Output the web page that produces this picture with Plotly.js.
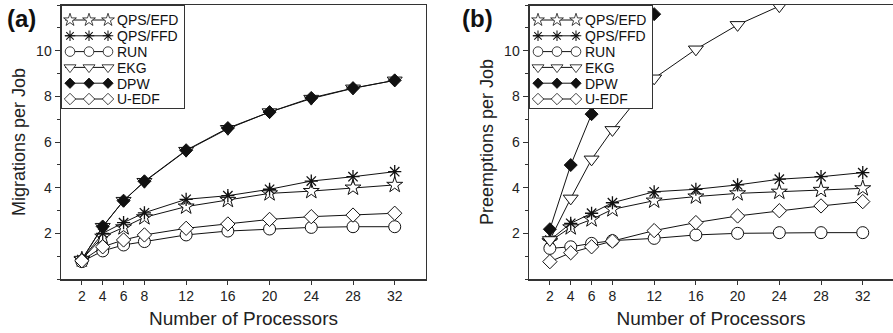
<!DOCTYPE html>
<html>
<head>
<meta charset="utf-8">
<script src="https://cdn.plot.ly/plotly-3.0.1.min.js"></script>
<style>html,body{margin:0;padding:0;background:#fff;}#chart{width:893px;height:333px;}</style>
</head>
<body>
<div id="chart"></div>
<script>
// Categories (x values)
const procs = [2, 4, 6, 8, 12, 16, 20, 24, 28, 32];
const xTickVals = [2, 4, 6, 8, 12, 16, 20, 24, 28, 32];
const yTickVals = [2, 4, 6, 8, 10];

const seriesNames = ["QPS/EFD", "QPS/FFD", "RUN", "EKG", "DPW", "U-EDF"];

// Panel (a): Migrations per Job
const qpsEfdMig = [0.85, 1.85, 2.26, 2.70, 3.17, 3.46, 3.75, 3.85, 4.00, 4.12];
const qpsFfdMig = [0.85, 2.00, 2.47, 2.90, 3.49, 3.65, 3.93, 4.29, 4.48, 4.70];
const runMig    = [0.76, 1.23, 1.49, 1.64, 1.93, 2.10, 2.19, 2.26, 2.29, 2.29];
const ekgMig    = [0.85, 2.29, 3.43, 4.26, 5.62, 6.58, 7.31, 7.90, 8.35, 8.70];
const dpwMig    = [0.85, 2.30, 3.43, 4.28, 5.64, 6.61, 7.31, 7.93, 8.36, 8.70];
const uedfMig   = [0.80, 1.41, 1.71, 1.93, 2.22, 2.41, 2.61, 2.73, 2.80, 2.88];

// Panel (b): Preemptions per Job (null = beyond the plotted range)
const qpsEfdPre = [1.65, 2.26, 2.61, 3.05, 3.43, 3.61, 3.75, 3.82, 3.90, 3.97];
const qpsFfdPre = [1.70, 2.44, 2.88, 3.34, 3.82, 3.93, 4.12, 4.37, 4.48, 4.66];
const runPre    = [1.34, 1.41, 1.56, 1.68, 1.78, 1.93, 2.00, 2.03, 2.03, 2.03];
const ekgPre    = [1.71, 3.53, 5.24, 6.53, 8.79, 10.06, 11.13, 11.95, null, null];
const dpwPre    = [2.18, 4.99, 7.22, 9.40, 11.60, null, null, null, null, null];
const uedfPre   = [0.76, 1.15, 1.41, 1.66, 2.12, 2.47, 2.76, 2.99, 3.20, 3.39];

const migSeries = [qpsEfdMig, qpsFfdMig, runMig, ekgMig, dpwMig, uedfMig];
const preSeries = [qpsEfdPre, qpsFfdPre, runPre, ekgPre, dpwPre, uedfPre];

const markerStyles = [
  {symbol: "star", color: "#fff", size: 12, lw: 1},
  {symbol: "asterisk-open", color: "#111", size: 11, lw: 1.3},
  {symbol: "circle", color: "#fff", size: 12, lw: 1},
  {symbol: "triangle-down", color: "#fff", size: 13, lw: 1},
  {symbol: "diamond", color: "#111", size: 10, lw: 1},
  {symbol: "diamond", color: "#fff", size: 11, lw: 1}
];

const FONT = "Liberation Sans, Arial, Helvetica, sans-serif";
const traces = [];
function addPanel(series, xa, ya, leg) {
  series.forEach((vals, i) => {
    const m = markerStyles[i];
    traces.push({
      type: "scatter", mode: "lines+markers",
      x: procs, y: vals, name: seriesNames[i],
      xaxis: xa, yaxis: ya, legend: leg,
      connectgaps: false,
      line: {color: "#111", width: 1},
      marker: {symbol: m.symbol, size: m.size, color: m.color,
               line: {color: "#111", width: m.lw}}
    });
  });
}
addPanel(migSeries, "x", "y", "legend");
addPanel(preSeries, "x2", "y2", "legend2");

const xCommon = {
  tickmode: "array", tickvals: xTickVals,
  ticks: "outside", ticklen: 4, tickwidth: 1, tickcolor: "#333",
  showline: true, linecolor: "#333", linewidth: 1.5,
  showgrid: false, zeroline: false,
  tickfont: {family: FONT, size: 14, color: "#222"},
  title: {text: "Number of Processors", font: {family: FONT, size: 19, color: "#222"}, standoff: 8}
};
const yCommon = {
  range: [0, 12],
  tickmode: "array", tickvals: yTickVals,
  ticks: "outside", ticklen: 5, tickwidth: 1, tickcolor: "#333",
  minor: {tickmode: "linear", tick0: 0, dtick: 1, ticks: "outside", ticklen: 3, tickcolor: "#333", showgrid: false},
  showline: true, linecolor: "#333", linewidth: 1.5,
  showgrid: false, zeroline: false,
  tickfont: {family: FONT, size: 14, color: "#222"}
};

const legCommon = {
  xanchor: "left", yanchor: "top", y: 1,
  bgcolor: "#fff", bordercolor: "#333", borderwidth: 1,
  font: {family: FONT, size: 14, color: "#111"},
  itemwidth: 45, tracegroupgap: 0, traceorder: "normal"
};

const layout = {
  width: 893, height: 333,
  margin: {l: 61, r: 0, t: 5, b: 54},
  paper_bgcolor: "#fff", plot_bgcolor: "#fff",
  showlegend: true,
  xaxis: Object.assign({}, xCommon, {domain: [0, 0.4387], range: [0, 35], mirror: true, anchor: "y"}),
  yaxis: Object.assign({}, yCommon, {mirror: true, anchor: "x",
    title: {text: "Migrations per Job", font: {family: FONT, size: 18, color: "#222"}, standoff: 6}}),
  xaxis2: Object.assign({}, xCommon, {domain: [0.5625, 1], range: [0, 34.9], mirror: true, anchor: "y2"}),
  yaxis2: Object.assign({}, yCommon, {mirror: false, anchor: "x2",
    title: {text: "Preemptions per Job", font: {family: FONT, size: 18, color: "#222"}, standoff: 6}}),
  legend: Object.assign({}, legCommon, {x: 0}),
  legend2: Object.assign({}, legCommon, {x: 0.5625}),
  annotations: [
    {text: "<b>(a)</b>", xref: "paper", yref: "paper", x: -0.047, y: 0.95, xanchor: "center", yanchor: "middle",
     showarrow: false, font: {family: FONT, size: 24, color: "#111"}},
    {text: "<b>(b)</b>", xref: "paper", yref: "paper", x: 0.501, y: 0.95, xanchor: "center", yanchor: "middle",
     showarrow: false, font: {family: FONT, size: 24, color: "#111"}}
  ]
};

// Compact the legend rows and show three sample markers per entry, as in the original figure
function restyleLegends(gd) {
  const ROW = 15.8, FIRST = 15, BOXW = 123;
  const groups = gd.querySelectorAll("g.infolayer > g");
  groups.forEach(leg => {
    const cls = leg.getAttribute("class") || "";
    if (!/^legend/.test(cls)) return;
    const items = leg.querySelectorAll("g.traces");
    items.forEach((it, i) => {
      const tr = it.getAttribute("transform") || "";
      const mx = /translate\(\s*([-\d.]+)/.exec(tr);
      const tx = mx ? parseFloat(mx[1]) : 0;
      it.setAttribute("transform", "translate(" + tx + "," + (FIRST + i * ROW) + ")");
      const txt = it.querySelector("text.legendtext");
      const textX = txt ? parseFloat(txt.getAttribute("x")) || 55 : 55;
      const line = it.querySelector("path.js-line");
      if (line) line.setAttribute("d", "M" + (textX - 52) + ",0h" + 46);
      const pt = it.querySelector("path.scatterpts");
      if (pt) {
        const parent = pt.parentNode;
        const offs = [-47, -28, -9];
        offs.forEach((o, k) => {
          const node = k === 0 ? pt : pt.cloneNode(true);
          node.setAttribute("transform", "translate(" + (textX + o) + ",0) scale(0.8)");
          if (k > 0) parent.appendChild(node);
        });
      }
    });
    const bg = leg.querySelector("rect.bg");
    if (bg && items.length) {
      bg.setAttribute("height", FIRST + (items.length - 1) * ROW + 9);
      bg.setAttribute("width", BOXW);
    }
  });
}

Plotly.newPlot("chart", traces, layout, {displayModeBar: false, staticPlot: true}).then(restyleLegends);
</script>
</body>
</html>
